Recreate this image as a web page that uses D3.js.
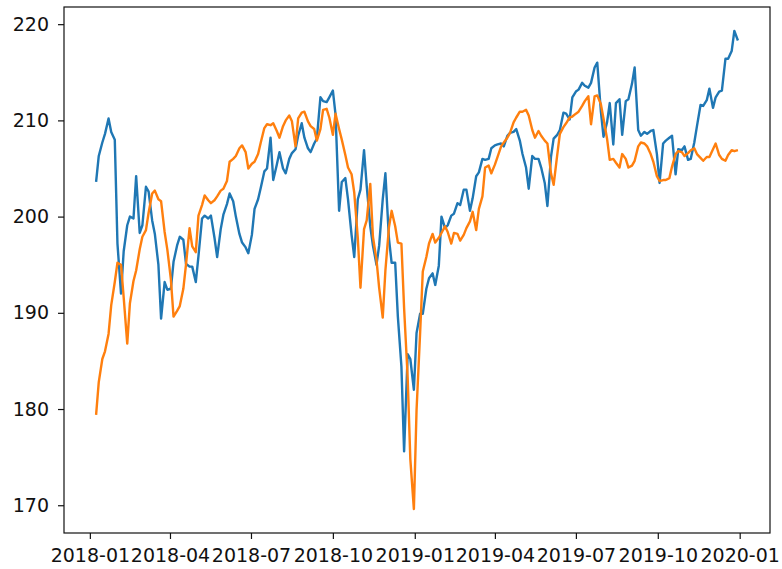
<!DOCTYPE html>
<meta charset="utf-8">
<style>
  body { margin: 0; background: #fff; }
  .tick text {
    fill: #111;
    font-size: 19px;
    font-family: "DejaVu Sans", sans-serif;
  }
  .tick line { stroke: #111; stroke-width: 1.2; }
</style>

<script src="https://d3js.org/d3.v7.min.js"></script>

<div id="my_dataviz"></div>

<script>
  // dates: Mondays and Thursdays, 2018-01-08 .. 2019-12-30
  const dates = [
    "2018-01-08","2018-01-11","2018-01-15","2018-01-18","2018-01-22","2018-01-25","2018-01-29","2018-02-01",
    "2018-02-05","2018-02-08","2018-02-12","2018-02-15","2018-02-19","2018-02-22","2018-02-26","2018-03-01",
    "2018-03-05","2018-03-08","2018-03-12","2018-03-15","2018-03-19","2018-03-22","2018-03-26","2018-03-29",
    "2018-04-02","2018-04-05","2018-04-09","2018-04-12","2018-04-16","2018-04-19","2018-04-23","2018-04-26",
    "2018-04-30","2018-05-03","2018-05-07","2018-05-10","2018-05-14","2018-05-17","2018-05-21","2018-05-24",
    "2018-05-28","2018-05-31","2018-06-04","2018-06-07","2018-06-11","2018-06-14","2018-06-18","2018-06-21",
    "2018-06-25","2018-06-28","2018-07-02","2018-07-05","2018-07-09","2018-07-12","2018-07-16","2018-07-19",
    "2018-07-23","2018-07-26","2018-07-30","2018-08-02","2018-08-06","2018-08-09","2018-08-13","2018-08-16",
    "2018-08-20","2018-08-23","2018-08-27","2018-08-30","2018-09-03","2018-09-06","2018-09-10","2018-09-13",
    "2018-09-17","2018-09-20","2018-09-24","2018-09-27","2018-10-01","2018-10-04","2018-10-08","2018-10-11",
    "2018-10-15","2018-10-18","2018-10-22","2018-10-25","2018-10-29","2018-11-01","2018-11-05","2018-11-08",
    "2018-11-12","2018-11-15","2018-11-19","2018-11-22","2018-11-26","2018-11-29","2018-12-03","2018-12-06",
    "2018-12-10","2018-12-13","2018-12-17","2018-12-20","2018-12-24","2018-12-27","2018-12-31","2019-01-03",
    "2019-01-07","2019-01-10","2019-01-14","2019-01-17","2019-01-21","2019-01-24","2019-01-28","2019-01-31",
    "2019-02-04","2019-02-07","2019-02-11","2019-02-14","2019-02-18","2019-02-21","2019-02-25","2019-02-28",
    "2019-03-04","2019-03-07","2019-03-11","2019-03-14","2019-03-18","2019-03-21","2019-03-25","2019-03-28",
    "2019-04-01","2019-04-04","2019-04-08","2019-04-11","2019-04-15","2019-04-18","2019-04-22","2019-04-25",
    "2019-04-29","2019-05-02","2019-05-06","2019-05-09","2019-05-13","2019-05-16","2019-05-20","2019-05-23",
    "2019-05-27","2019-05-30","2019-06-03","2019-06-06","2019-06-10","2019-06-13","2019-06-17","2019-06-20",
    "2019-06-24","2019-06-27","2019-07-01","2019-07-04","2019-07-08","2019-07-11","2019-07-15","2019-07-18",
    "2019-07-22","2019-07-25","2019-07-29","2019-08-01","2019-08-05","2019-08-08","2019-08-12","2019-08-15",
    "2019-08-19","2019-08-22","2019-08-26","2019-08-29","2019-09-02","2019-09-05","2019-09-09","2019-09-12",
    "2019-09-16","2019-09-19","2019-09-23","2019-09-26","2019-09-30","2019-10-03","2019-10-07","2019-10-10",
    "2019-10-14","2019-10-17","2019-10-21","2019-10-24","2019-10-28","2019-10-31","2019-11-04","2019-11-07",
    "2019-11-11","2019-11-14","2019-11-18","2019-11-21","2019-11-25","2019-11-28","2019-12-02","2019-12-05",
    "2019-12-09","2019-12-12","2019-12-16","2019-12-19","2019-12-23","2019-12-26","2019-12-30"
  ]

  // first series (blue)
  const series1 = [
    203.6,206.3,207.7,208.6,210.2,208.8,208.0,197.2,192.0,196.4,199.1,200.0,199.8,204.2,198.3,199.1,
    203.1,202.6,199.6,198.2,195.0,189.4,193.2,192.4,192.5,195.3,197.0,197.9,197.6,195.1,194.8,194.8,
    193.2,195.9,199.8,200.1,199.8,200.1,197.8,195.8,198.7,200.2,201.3,202.4,201.6,200.0,198.2,197.3,
    196.8,196.2,198.1,200.8,201.8,203.0,204.7,205.0,208.2,203.8,205.4,206.7,205.0,204.5,206.0,206.6,
    207.0,208.4,209.7,208.2,207.1,206.7,207.6,208.1,212.4,212.0,211.9,212.4,213.1,210.6,200.6,203.6,
    204.0,201.8,198.1,195.8,201.8,202.8,206.9,203.2,199.0,197.0,195.0,197.0,201.8,204.5,197.7,195.2,
    195.2,189.6,184.4,175.6,185.7,185.2,182.0,187.9,189.9,189.9,192.5,193.6,194.1,192.9,194.9,200.0,
    198.8,199.1,200.1,200.3,201.4,201.2,202.8,202.8,200.6,201.9,204.2,204.6,206.0,205.9,206.0,207.1,
    207.4,207.5,207.6,207.3,208.4,208.7,208.8,209.1,207.9,206.5,205.1,202.9,206.3,206.0,206.0,205.1,
    203.5,201.1,206.2,208.1,208.5,209.0,210.8,210.7,210.1,212.4,213.0,213.2,213.9,213.6,213.4,213.9,
    215.5,216.0,211.0,208.3,209.8,211.8,207.5,211.8,212.2,208.5,212.0,212.2,213.8,215.5,209.0,208.4,
    208.8,208.6,208.9,209.0,206.5,203.5,207.6,207.9,208.2,208.4,204.4,207.0,206.9,207.3,205.9,206.0,
    207.7,209.4,211.6,211.5,212.1,213.3,211.3,212.4,213.0,213.1,216.4,216.4,217.2,219.3,218.3
  ]

  // second series (orange)
  const series2 = [
    179.4,182.8,185.2,186.0,187.8,190.8,193.2,195.2,195.0,191.6,186.8,191.0,193.3,194.4,196.6,197.9,
    198.6,200.4,202.4,202.7,201.8,201.6,198.4,196.6,193.5,189.6,190.2,190.7,192.5,195.0,198.8,196.9,
    196.3,200.1,201.2,202.2,201.7,201.4,201.7,202.1,202.7,202.9,203.7,205.7,206.0,206.3,207.1,207.4,
    206.7,205.0,205.5,205.7,206.5,207.7,209.2,209.6,209.5,209.7,208.9,208.2,209.4,210.0,210.5,209.9,
    207.3,210.2,210.8,210.9,209.9,209.4,209.1,207.9,209.1,211.1,211.2,210.3,208.5,210.7,209.1,208.0,
    206.4,205.1,204.4,202.5,197.8,192.6,198.7,199.6,203.4,197.9,195.5,192.6,189.5,194.4,198.9,200.6,
    199.0,197.3,197.2,190.5,183.3,174.8,169.6,179.9,187.9,194.3,195.8,197.2,198.2,197.3,197.8,198.3,
    199.0,198.4,197.2,198.3,198.2,197.5,198.1,198.8,199.5,200.5,198.6,200.8,202.1,205.1,205.3,204.5,
    205.4,206.2,207.3,207.7,208.2,208.7,209.8,210.3,210.9,210.9,211.1,210.5,209.0,208.2,208.9,208.4,
    207.9,207.6,204.5,203.3,206.4,208.6,209.3,209.7,210.3,210.4,210.7,210.9,211.5,212.0,212.5,209.6,
    212.5,212.6,211.7,210.2,208.1,205.9,206.0,205.6,205.1,206.5,206.0,205.1,205.3,205.8,207.3,207.7,
    207.6,207.3,206.5,205.7,204.2,203.7,203.8,203.8,204.0,205.2,206.5,206.8,206.7,206.3,206.6,206.9,
    207.1,206.5,206.1,205.8,206.2,206.2,207.0,207.6,206.4,206.0,205.8,206.4,206.9,206.8,206.9
  ]

  const xTicks = ["2018-01-01","2018-04-01","2018-07-01","2018-10-01","2019-01-01",
                  "2019-04-01","2019-07-01","2019-10-01","2020-01-01"]
  const yTicks = [170, 180, 190, 200, 210, 220]

  const lineColors = ["#1f77b4", "#ff7f0e"]

  const margin = {top: 7, right: 12, bottom: 36, left: 64},
        width = 782 - margin.left - margin.right,
        height = 569 - margin.top - margin.bottom;

  const parse = d3.timeParse("%Y-%m-%d")
  const when = dates.map(parse)

  const svg = d3.select("#my_dataviz")
    .append("svg")
      .attr("width", width + margin.left + margin.right)
      .attr("height", height + margin.top + margin.bottom)
    .append("g")
      .attr("transform", `translate(${margin.left}, ${margin.top})`);

  // matplotlib style 5% padding around the data
  const tExt = d3.extent(when)
  const tPad = (tExt[1] - tExt[0]) * 0.05
  const x = d3.scaleTime()
    .domain([new Date(+tExt[0] - tPad), new Date(+tExt[1] + tPad)])
    .range([0, width])

  const vExt = d3.extent(series1.concat(series2))
  const vPad = (vExt[1] - vExt[0]) * 0.05
  const y = d3.scaleLinear()
    .domain([vExt[0] - vPad, vExt[1] + vPad])
    .range([height, 0])

  const xAxis = svg.append("g")
    .attr("transform", `translate(0, ${height})`)
    .call(d3.axisBottom(x)
      .tickValues(xTicks.map(parse))
      .tickFormat(d3.timeFormat("%Y-%m"))
      .tickSize(6)
      .tickPadding(10))
  xAxis.select(".domain").remove()

  const yAxis = svg.append("g")
    .call(d3.axisLeft(y)
      .tickValues(yTicks)
      .tickFormat(d3.format("d"))
      .tickSize(6)
      .tickPadding(9))
  yAxis.select(".domain").remove()

  const line = d3.line()
    .x((d, i) => x(when[i]))
    .y(d => y(d))

  svg.selectAll(".series")
    .data([series1, series2])
    .join("path")
      .attr("class", "series")
      .attr("fill", "none")
      .attr("stroke", (d, i) => lineColors[i])
      .attr("stroke-width", 2.4)
      .attr("stroke-linejoin", "round")
      .attr("d", line)

  // frame
  svg.append("rect")
    .attr("width", width)
    .attr("height", height)
    .attr("fill", "none")
    .attr("stroke", "#111")
    .attr("stroke-width", 1.2)
</script>
